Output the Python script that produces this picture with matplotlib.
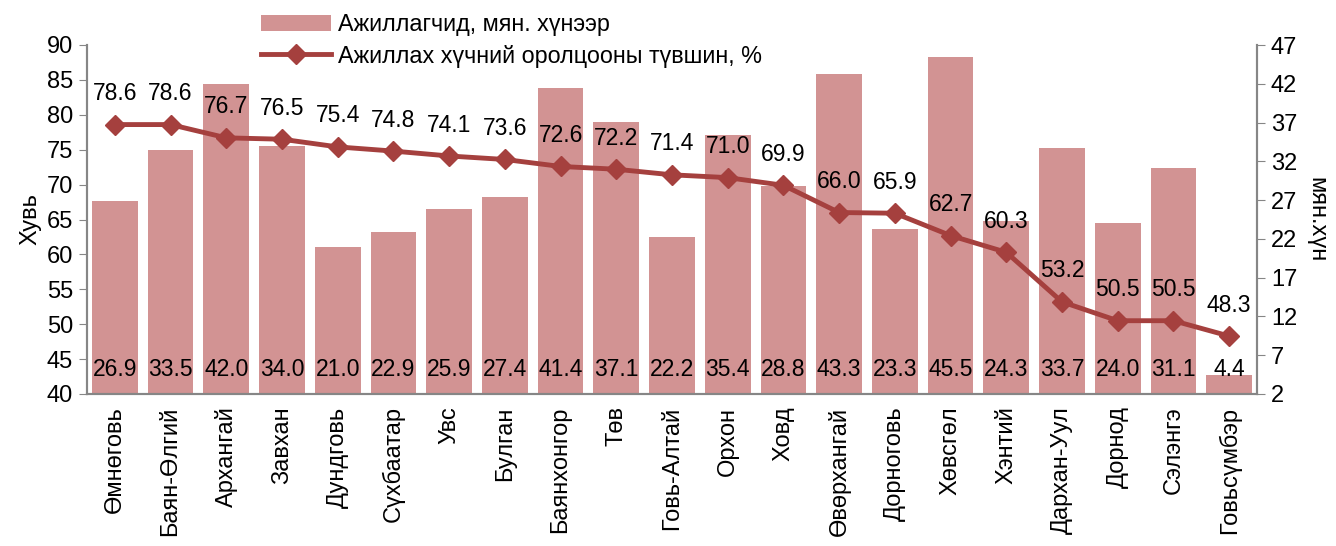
import numpy as np
import matplotlib
matplotlib.use("Agg")
import matplotlib.pyplot as plt

plt.rcParams["font.family"] = ["Liberation Sans", "DejaVu Sans"]

# Data
aimags = ["Өмнөговь", "Баян-Өлгий", "Архангай", "Завхан", "Дундговь", "Сүхбаатар",
          "Увс", "Булган", "Баянхонгор", "Төв", "Говь-Алтай", "Орхон", "Ховд",
          "Өвөрхангай", "Дорноговь", "Хөвсгөл", "Хэнтий", "Дархан-Уул", "Дорнод",
          "Сэлэнгэ", "Говьсүмбэр"]
employed = [26.9, 33.5, 42.0, 34.0, 21.0, 22.9, 25.9, 27.4, 41.4, 37.1, 22.2,
            35.4, 28.8, 43.3, 23.3, 45.5, 24.3, 33.7, 24.0, 31.1, 4.4]
participation = [78.6, 78.6, 76.7, 76.5, 75.4, 74.8, 74.1, 73.6, 72.6, 72.2, 71.4,
                 71.0, 69.9, 66.0, 65.9, 62.7, 60.3, 53.2, 50.5, 50.5, 48.3]

bar_color = "#D29393"
line_color = "#A5403E"
axis_color = "#868686"

fig = plt.figure(figsize=(13.36, 5.46), dpi=100)
ax = fig.add_axes([87 / 1336, 1 - 394 / 546, 1170 / 1336, 349 / 546])
ax2 = ax.twinx()
ax2.set_zorder(ax.get_zorder() - 1)
ax.patch.set_visible(False)

x = np.arange(len(aimags))

# bars on right axis
bars = ax2.bar(x, employed, width=0.82, color=bar_color, label="Ажиллагчид, мян. хүнээр")
ax2.set_ylim(2, 47)
ax2.set_yticks(np.arange(2, 48, 5))
for xi, v in zip(x, employed):
    ax2.text(xi, 5.1, f"{v:.1f}", ha="center", va="center", fontsize=16.5)

# line on left axis
line, = ax.plot(x, participation, color=line_color, lw=3.5, marker="D", ms=10,
                label="Ажиллах хүчний оролцооны түвшин, %")
ax.set_ylim(40, 90)
ax.set_yticks(np.arange(40, 91, 5))
ax.set_xlim(-0.5, len(aimags) - 0.5)
for xi, v in zip(x, participation):
    ax.annotate(f"{v:.1f}", (xi, v), xytext=(0, 14), textcoords="offset points",
                ha="center", va="bottom", fontsize=16.5)

ax.set_xticks(x)
ax.set_xticklabels(aimags, rotation=90, fontsize=17)
ax.tick_params(axis="x", length=0, pad=9)
ax.tick_params(axis="y", labelsize=17, color=axis_color, length=6, pad=4)
ax2.tick_params(axis="y", labelsize=17, color=axis_color, length=6, pad=4)

for a in (ax, ax2):
    a.spines["top"].set_visible(False)
    for s in ("left", "right", "bottom"):
        a.spines[s].set_color(axis_color)
        a.spines[s].set_linewidth(1.5)

ax.set_ylabel("Хувь", fontsize=17, labelpad=4)
ax2.set_ylabel("мян.хүн", fontsize=17, rotation=-90, labelpad=22)

fig.legend(handles=[bars, line], loc="upper left", bbox_to_anchor=(252 / 1336, 1 - 4 / 546),
           frameon=False, fontsize=16.8, handlelength=3.0, handletextpad=0.3,
           labelspacing=0.35, borderaxespad=0)

fig.savefig("out.png", dpi=100)
